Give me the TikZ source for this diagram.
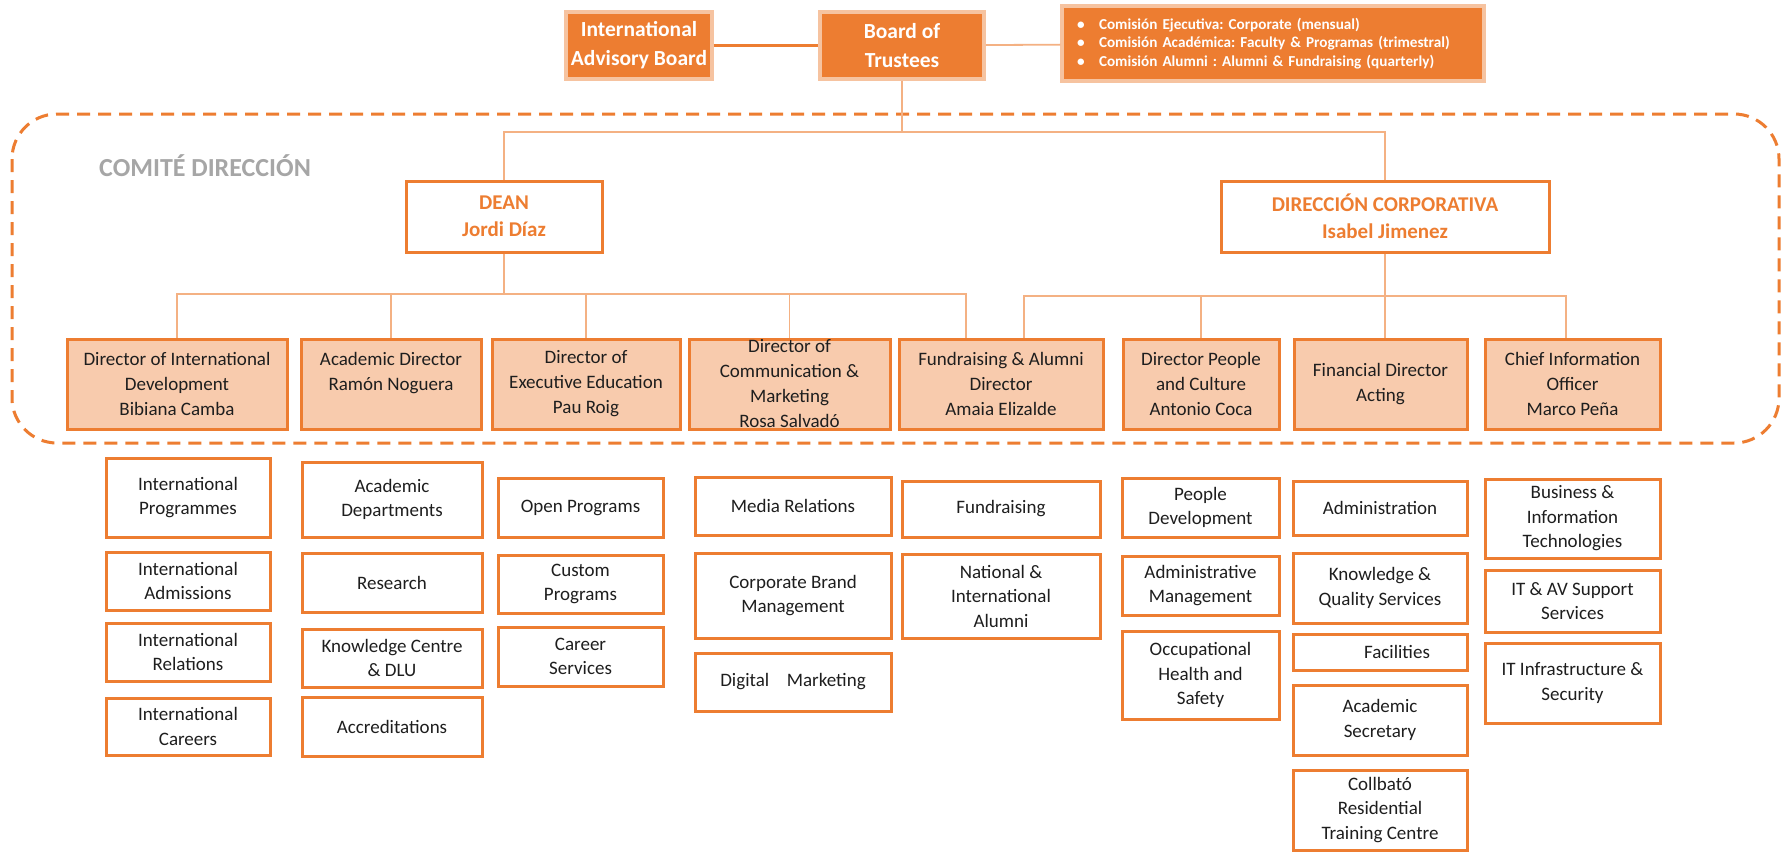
\documentclass[tikz,border=0pt]{standalone}
\usepackage{fontspec}
\setmainfont{Carlito}
\frenchspacing
\definecolor{org}{HTML}{ED7D31}
\definecolor{peach}{HTML}{F8CBAD}
\definecolor{lnc}{HTML}{F4B183}
\definecolor{glow}{HTML}{F6C3A0}
\definecolor{grayt}{HTML}{A6A6A6}
\definecolor{txt}{HTML}{1E1E1E}
\newcommand\bxn[6]{\node[#1,minimum width=#4,minimum height=#5] (#2) at (#3) {#6};}
\tikzset{
 topbox/.style={draw=glow, line width=3.5pt, fill=org, text=white, font=\fontsize{21.5}{29}\selectfont\bfseries, align=center, inner sep=0pt},
 headbox/.style={draw=org, line width=3pt, fill=white, text=org, font=\fontsize{21}{27}\selectfont\bfseries, align=center, inner sep=0pt},
 dirbox/.style={draw=org, line width=3pt, fill=peach, text=txt, font=\fontsize{19}{25}\selectfont, align=center, inner sep=0pt},
 subbox/.style={draw=org, line width=3pt, fill=white, text=txt, font=\fontsize{19}{24.5}\selectfont, align=center, inner sep=0pt},
 conn/.style={draw=lnc, line width=1.8pt},
}
\begin{document}
\begin{tikzpicture}[x=1pt,y=-1pt]
\useasboundingbox (0,0) rectangle (1782,855);
\fill[white] (0,0) rectangle (1782,855);

% dashed committee frame
\draw[org, line width=3pt, dash pattern=on 13pt off 8pt, rounded corners=45pt] (12,114) rectangle (1779,443);
\node[anchor=west, text=grayt, font=\fontsize{26}{30}\selectfont\bfseries, inner sep=0pt] (comite) at (99,166) {COMITÉ DIRECCIÓN};

% top level
\bxn{topbox}{iab}{639,45.5}{146}{67}{International\\Advisory Board}
\bxn{topbox}{bot}{902,45.5}{164}{67}{Board of\\Trustees}
\node[topbox, minimum width=422, minimum height=75, font=\fontsize{15.2}{18.8}\selectfont\bfseries, align=left, text width=392] (com) at (1273,43.5)
 {\makebox[22pt][l]{•}Comisión Ejecutiva: Corporate (mensual)\\
  \makebox[22pt][l]{•}Comisión Académica: Faculty \& Programas (trimestral)\\
  \makebox[22pt][l]{•}Comisión Alumni : Alumni \& Fundraising (quarterly)};
\draw[org, line width=2.5pt] (iab) -- (bot);
\draw[conn] (bot) -- (com);

% heads
\bxn{headbox}{dean}{504,216.5}{196}{71}{DEAN\\Jordi Díaz}
\bxn{headbox}{corp}{1385,216.5}{328}{71}{DIRECCIÓN CORPORATIVA\\Isabel Jimenez}

% directors
\bxn{dirbox}{d1}{177,384}{220}{90}{Director of International\\Development\\Bibiana Camba}
\bxn{dirbox}{d2}{391,384}{180}{90}{Academic Director\\Ramón Noguera\\\mbox{}}
\bxn{dirbox}{d3}{586,384}{188}{90}{Director of\\Executive Education\\Pau Roig}
\bxn{dirbox}{d4}{789.5,384}{201}{90}{Director of\\Communication \&\\Marketing\\Rosa Salvadó}
\bxn{dirbox}{d5}{1001,384}{204}{90}{Fundraising \& Alumni\\Director\\Amaia Elizalde}
\bxn{dirbox}{d6}{1201,384}{156}{90}{Director People\\and Culture\\Antonio Coca}
\bxn{dirbox}{d7}{1380.5,384}{173}{90}{Financial Director\\Acting}
\bxn{dirbox}{d8}{1572.5,384}{175}{90}{Chief Information\\Officer\\Marco Peña}

% connectors
\coordinate (tj) at (902,132);
\draw[conn] (bot.south) -- (tj);
\draw[conn] (dean.north) |- (tj) -| (corp.north);
\coordinate (dj) at (504,294);
\draw[conn] (dean.south) -- (dj);
\foreach \n in {d1,d2,d3,d4} \draw[conn] (\n.north) |- (dj);
\draw[conn] ([xshift=-35pt]d5.north) |- (dj);
\coordinate (cj) at (1385,296);
\draw[conn] (corp.south) -- (cj);
\draw[conn] ([xshift=23pt]d5.north) |- (cj);
\draw[conn] (d6.north) |- (cj);
\draw[conn] ([xshift=4.5pt]d7.north) |- (cj);
\draw[conn] ([xshift=-6.5pt]d8.north) |- (cj);

% column 1
\bxn{subbox}{b11}{188,497.5}{164}{79}{International\\Programmes}
\bxn{subbox}{b12}{188,581}{164}{58}{International\\Admissions}
\bxn{subbox}{b13}{188,652}{164}{58}{International\\Relations}
\bxn{subbox}{b14}{188,726.5}{164}{57}{International\\Careers}
% column 2
\bxn{subbox}{b21}{392,499.5}{180}{75}{Academic\\Departments}
\bxn{subbox}{b22}{392,582.5}{180}{59}{Research}
\bxn{subbox}{b23}{392,658}{180}{58}{Knowledge Centre\\\& DLU}
\bxn{subbox}{b24}{392,726.5}{180}{59}{Accreditations}
% column 3
\bxn{subbox}{b31}{580.5,507.5}{165}{59}{Open Programs}
\bxn{subbox}{b32}{580.5,584}{165}{58}{Custom\\Programs}
\bxn{subbox}{b33}{580.5,656.5}{165}{59}{Career\\Services}
% column 4
\bxn{subbox}{b41}{793,506}{196}{58}{Media Relations}
\bxn{subbox}{b42}{793,595.5}{196}{85}{Corporate Brand\\Management}
\bxn{subbox}{b43}{793,682}{196}{58}{Digital\hspace{0.7em} Marketing}
% column 5
\bxn{subbox}{b51}{1001,509}{198}{56}{Fundraising}
\bxn{subbox}{b52}{1001,596}{198}{84}{National \&\\International\\Alumni}
% column 6
\bxn{subbox}{b61}{1200.5,507.5}{157}{59}{People\\Development}
\bxn{subbox}{b62}{1200.5,585.5}{157}{59}{Administrative\\Management}
\bxn{subbox}{b63}{1200.5,675}{157}{88}{Occupational\\Health and\\Safety}
% column 7
\bxn{subbox}{b71}{1380,508}{174}{54}{Administration}
\bxn{subbox}{b72}{1380,588}{174}{70}{Knowledge \&\\Quality Services}
\bxn{subbox}{b73}{1380,652}{174}{36}{\hspace*{34pt}Facilities}
\bxn{subbox}{b74}{1380,720}{174}{70}{Academic\\Secretary}
\bxn{subbox}{b75}{1380,810}{174}{80}{Collbató\\Residential\\Training Centre}
% column 8
\bxn{subbox}{b81}{1572.5,518.5}{175}{79}{Business \&\\Information\\Technologies}
\bxn{subbox}{b82}{1572.5,601}{175}{62}{IT \& AV Support\\Services}
\bxn{subbox}{b83}{1572.5,683}{175}{80}{IT Infrastructure \&\\Security}
\end{tikzpicture}
\end{document}
